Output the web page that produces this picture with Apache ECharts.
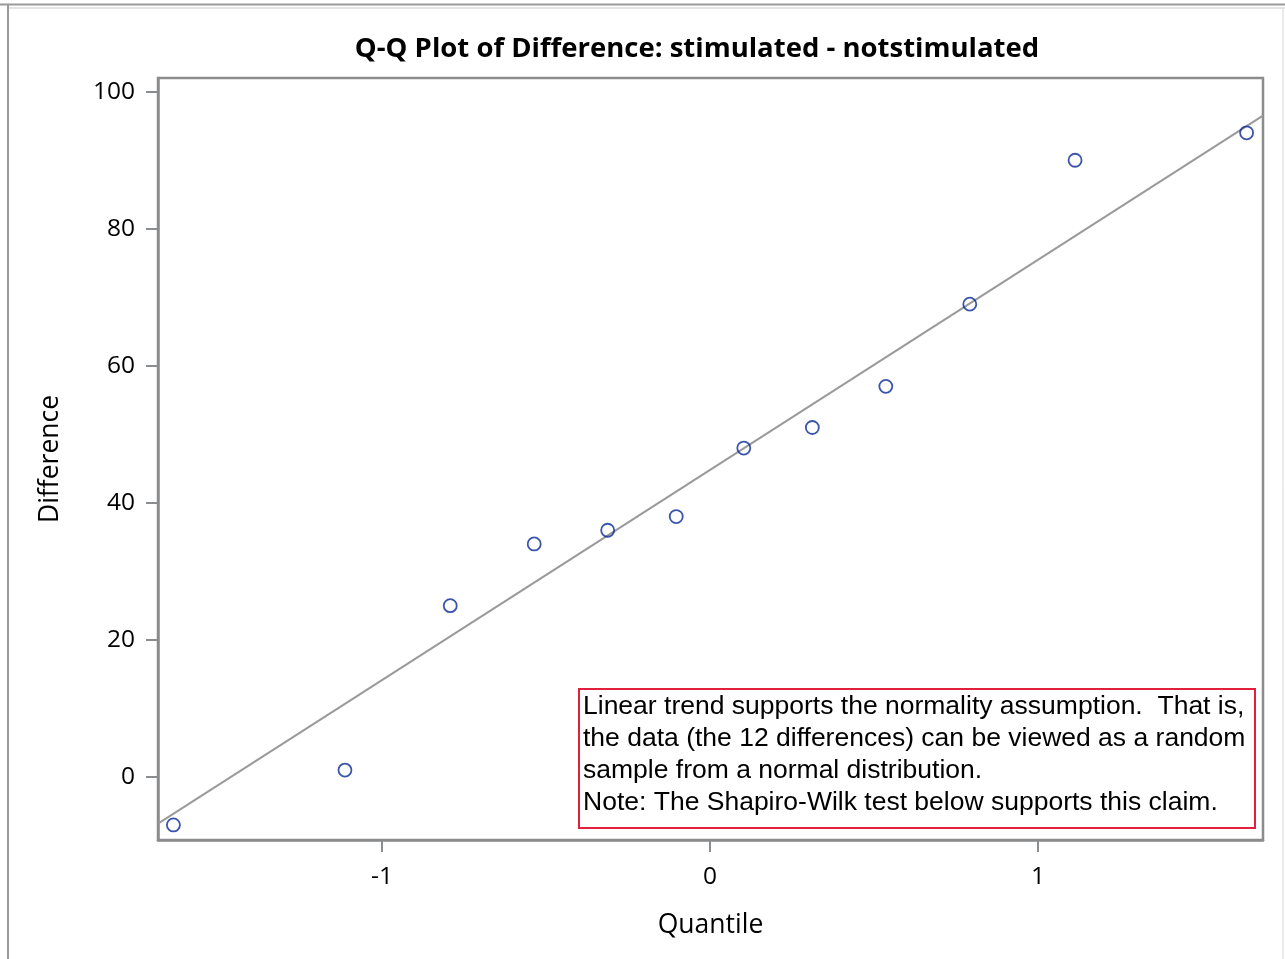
<!DOCTYPE html>
<html>
<head>
<meta charset="utf-8">
<script src="https://cdn.jsdelivr.net/npm/echarts@6/dist/echarts.min.js"></script>
<style>
html,body{margin:0;padding:0;background:#fff;}
#c{width:1285px;height:959px;}
</style>
</head>
<body>
<div id="c"></div>
<script>
// Normal quantiles (x) and ordered differences (y)
const quantiles = [-1.636, -1.113, -0.792, -0.536, -0.312, -0.103, 0.103, 0.312, 0.536, 0.792, 1.113, 1.636];
const differences = [-7, 1, 25, 34, 36, 38, 48, 51, 57, 69, 90, 94];
// Reference line end points
const lineX = [-1.683, 1.686];
const lineY = [-6.8, 96.5];
const yTicks = [0, 20, 40, 60, 80, 100];
const xTicks = [-1, 0, 1];
const titleText = 'Q-Q Plot of Difference: stimulated - notstimulated';
const noteLines = [
  'Linear trend supports the normality assumption.  That is,',
  'the data (the 12 differences) can be viewed as a random',
  'sample from a normal distribution.',
  'Note: The Shapiro-Wilk test below supports this claim.'
];

const chart = echarts.init(document.getElementById('c'), null, {renderer: 'canvas'});
const axisGray = '#8a8c8e';
const tickFont = '"Open Sans", "Noto Sans", sans-serif';

chart.setOption({
  animation: false,
  backgroundColor: '#fff',
  title: {
    text: titleText,
    left: 692, top: 30, textAlign: 'center',
    textStyle: {fontFamily: tickFont, fontWeight: 'bold', fontSize: 27.5, color: '#000'}
  },
  grid: {left: 158, right: 22, top: 78, bottom: 119, show: true, borderColor: axisGray, borderWidth: 2.5, backgroundColor: '#fff'},
  xAxis: {
    type: 'value', min: lineX[0], max: lineX[1],
    name: 'Quantile', nameLocation: 'middle', nameGap: 72,
    nameTextStyle: {fontFamily: tickFont, fontSize: 26.5, color: '#000'},
    axisLine: {show: true, onZero: false, lineStyle: {color: axisGray, width: 2.5}},
    axisTick: {show: true, length: 12, lineStyle: {color: axisGray, width: 2},
      customValues: xTicks},
    axisLabel: {fontFamily: tickFont, fontSize: 24.5, color: '#000', margin: 25,
      customValues: xTicks},
    splitLine: {show: false}
  },
  yAxis: {
    type: 'value', min: -9.2, max: 102.0,
    name: 'Difference', nameLocation: 'middle', nameGap: 94,
    nameTextStyle: {fontFamily: tickFont, fontSize: 26.5, color: '#000'},
    axisLine: {show: true, onZero: false, lineStyle: {color: axisGray, width: 2.5}},
    axisTick: {show: true, length: 12, lineStyle: {color: axisGray, width: 2},
      customValues: yTicks},
    axisLabel: {fontFamily: tickFont, fontSize: 24.5, color: '#000', margin: 23,
      customValues: yTicks},
    splitLine: {show: false}
  },
  series: [
    {
      type: 'line',
      data: lineX.map((x, i) => [x, lineY[i]]),
      symbol: 'none',
      lineStyle: {color: '#9a9a9a', width: 2},
      silent: true, z: 2
    },
    {
      type: 'scatter',
      data: quantiles.map((x, i) => [x, differences[i]]),
      symbol: 'circle', symbolSize: 13,
      itemStyle: {color: 'rgba(255,255,255,0)', borderColor: '#0a2a96', borderWidth: 1.8},
      z: 3
    }
  ],
  graphic: [
    {type: 'line', shape: {x1: 0, y1: 4.5, x2: 1285, y2: 4.5}, style: {stroke: '#9a9a9a', lineWidth: 2}},
    {type: 'line', shape: {x1: 8, y1: 8, x2: 1285, y2: 8}, style: {stroke: '#c8c8c8', lineWidth: 1}},
    {type: 'line', shape: {x1: 8, y1: 4, x2: 8, y2: 959}, style: {stroke: '#9a9a9a', lineWidth: 2}},
    {type: 'line', shape: {x1: 1283, y1: 8, x2: 1283, y2: 959}, style: {stroke: '#d8d8d8', lineWidth: 1}},
    {type: 'rect', shape: {x: 579, y: 689, width: 676, height: 139},
      style: {fill: '#fff', stroke: '#e0203c', lineWidth: 2}, z: 10},
    {type: 'text', x: 583, y: 691, z: 11,
      style: {text: noteLines.join('\n'), fontFamily: '"Liberation Sans", Arial, sans-serif',
        fontSize: 26.5, lineHeight: 32, fill: '#000'}}
  ]
});
</script>
</body>
</html>
